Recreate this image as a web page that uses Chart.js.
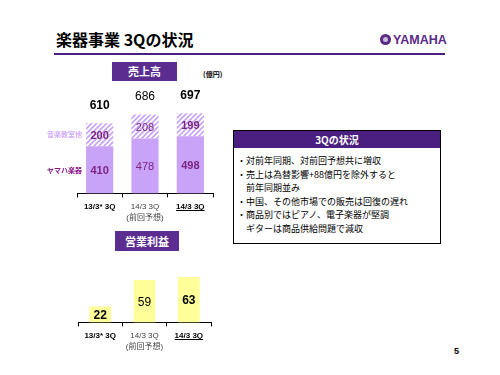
<!DOCTYPE html>
<html>
<head>
<meta charset="utf-8">
<script src="https://cdn.jsdelivr.net/npm/chart.js@4/dist/chart.umd.min.js"></script>
<style>
  body { margin: 0; width: 500px; height: 375px; background: #fff; position: relative; overflow: hidden;
         font-family: "Liberation Sans", "Noto Sans CJK JP", sans-serif; }
  .abs { position: absolute; }
  .title { left: 56px; top: 29px; font-size: 16px; font-weight: bold; color: #000; font-family: "Noto Sans CJK JP", sans-serif; line-height: 20px; }
  .rule { left: 54px; top: 53px; width: 391px; height: 2px; background: #4b1f7f; }
  .logo { left: 380px; top: 33px; color: #5b2a86; font-weight: bold; font-size: 12.5px; line-height: 14px; }
  .logo .emb { display: inline-block; width: 11px; height: 11px; border-radius: 50%; background: #5b2a86; vertical-align: -1px; margin-right: 2px; position: relative; }
  .logo .emb::after { content: ""; position: absolute; left: 3px; top: 3px; width: 5px; height: 5px; border-radius: 50%; background: #fff; opacity: .7; }
  .tag { background: #5c2d91; color: #fff; font-weight: bold; font-size: 11px; text-align: center; font-family: "Noto Sans CJK JP", sans-serif; }
  .unit { left: 203px; top: 69px; font-size: 7px; font-weight: bold; font-family: "Noto Sans CJK JP", sans-serif; }
  .box { left: 233px; top: 130px; width: 208px; height: 114px; border: 1px solid #000; box-sizing: border-box; }
  .box .hd { height: 17px; background: #4b1f7f; color: #fff; font-weight: bold; font-size: 10px; text-align: center; line-height: 17px; font-family: "Noto Sans CJK JP", sans-serif; }
  .box .tx { font-size: 9px; line-height: 13.5px; padding: 6px 0 0 3px; font-family: "Noto Sans CJK JP", sans-serif; color: #000; }
  .pg { left: 454px; top: 346px; font-size: 9px; font-weight: bold; }
  canvas { position: absolute; }
</style>
</head>
<body>
<div class="abs title">楽器事業 3Qの状況</div>
<div class="abs logo"><span class="emb"></span>YAMAHA</div>
<div class="abs rule"></div>
<div class="abs tag" style="left:112px;top:62px;width:65px;height:19px;line-height:19px;">売上高</div>
<div class="abs unit">(億円)</div>
<div class="abs tag" style="left:115px;top:231px;width:64px;height:20px;line-height:20px;">営業利益</div>
<div class="abs box">
  <div class="hd">3Qの状況</div>
  <div class="tx">・対前年同期、対前回予想共に増収<br>・売上は為替影響+88億円を除外すると<br>　前年同期並み<br>・中国、その他市場での販売は回復の遅れ<br>・商品別ではピアノ、電子楽器が堅調<br>　ギターは商品供給問題で減収</div>
</div>
<div class="abs pg">5</div>

<div class="abs" style="left:40px;top:85px;width:190px;height:146px;"><canvas id="sales"></canvas></div>
<div class="abs" style="left:40px;top:255px;width:190px;height:105px;"><canvas id="profit"></canvas></div>

<script>
// data
var categories = [['13/3* 3Q'], ['14/3 3Q', '(前回予想)'], ['14/3 3Q']];
var yamahaGakki = [410, 478, 498];
var ongakuKyoshitsu = [200, 208, 199];
var salesTotal = [610, 686, 697];
var opIncome = [22, 59, 63];
var seriesNames = ['ヤマハ楽器', '音楽教室他'];
var boldCols = [true, false, true];

var lilac = '#c9a3f7';
var numFont = '"Liberation Sans", "Noto Sans CJK JP", sans-serif';

function hatch() {
  var c = document.createElement('canvas');
  c.width = 5; c.height = 5;
  var g = c.getContext('2d');
  g.fillStyle = '#fff';
  g.fillRect(0, 0, 5, 5);
  g.strokeStyle = lilac;
  g.lineWidth = 1.6;
  g.beginPath();
  g.moveTo(-1, 6); g.lineTo(6, -1);
  g.moveTo(-1, 1); g.lineTo(1, -1);
  g.moveTo(4, 6); g.lineTo(6, 4);
  g.stroke();
  return g.createPattern(c, 'repeat');
}

// numbers on bars + totals + series names
const barLabels = {
  id: 'barLabels',
  afterDatasetsDraw(chart, args, opts) {
    var ctx = chart.ctx;
    ctx.save();
    ctx.textAlign = 'center';
    ctx.textBaseline = 'middle';
    chart.data.datasets.forEach(function (ds, di) {
      chart.getDatasetMeta(di).data.forEach(function (bar, i) {
        var mid = (bar.y + bar.base) / 2;
        ctx.font = (boldCols[i] ? 'bold ' : '') + opts.size + 'px ' + numFont;
        ctx.fillStyle = opts.color;
        ctx.fillText(ds.data[i], bar.x, mid + 1);
      });
    });
    if (opts.totals) {
      var top = chart.getDatasetMeta(chart.data.datasets.length - 1).data;
      top.forEach(function (bar, i) {
        ctx.font = (boldCols[i] ? 'bold ' : '') + '12px ' + numFont;
        ctx.fillStyle = '#000';
        ctx.fillText(opts.totals[i], bar.x, bar.y - 18);
      });
    }
    if (opts.names) {
      ctx.textAlign = 'left';
      ctx.font = 'bold 7px "Noto Sans CJK JP", sans-serif';
      chart.data.datasets.forEach(function (ds, di) {
        var bar = chart.getDatasetMeta(di).data[0];
        ctx.fillStyle = opts.nameColors[di];
        ctx.fillText(ds.label, 7, (bar.y + bar.base) / 2);
      });
    }
    ctx.restore();
  }
};

// underline under the current quarter label
const underline = {
  id: 'underline',
  afterDraw(chart) {
    var x = chart.scales.x;
    var ctx = chart.ctx;
    ctx.save();
    ctx.font = 'bold 8px ' + numFont;
    var w = ctx.measureText('14/3 3Q').width;
    var cx = x.getPixelForTick(2);
    var y = x.top + 17;
    ctx.strokeStyle = '#000';
    ctx.lineWidth = 1;
    ctx.beginPath();
    ctx.moveTo(cx - w / 2, Math.round(y) + 0.5);
    ctx.lineTo(cx + w / 2, Math.round(y) + 0.5);
    ctx.stroke();
    ctx.restore();
  }
};

function xAxis() {
  return {
    stacked: true,
    border: { color: '#000', width: 1 },
    grid: { display: true, drawOnChartArea: false, drawTicks: true, tickLength: 4, color: '#000', offset: true },
    ticks: {
      padding: 4,
      maxRotation: 0,
      color: function (c) { return boldCols[c.index] ? '#000' : '#444'; },
      font: function (c) { return { size: 8, weight: boldCols[c.index] ? 'bold' : 'normal', family: numFont, lineHeight: 1.35 }; }
    }
  };
}

new Chart(document.getElementById('sales'), {
  type: 'bar',
  data: {
    labels: categories,
    datasets: [
      { label: seriesNames[0], data: yamahaGakki, backgroundColor: lilac, barPercentage: 0.6, categoryPercentage: 1 },
      { label: seriesNames[1], data: ongakuKyoshitsu, backgroundColor: hatch(), barPercentage: 0.6, categoryPercentage: 1 }
    ]
  },
  options: {
    responsive: true, maintainAspectRatio: false, animation: false,
    layout: { padding: { left: 37, right: 17, top: 5, bottom: 4 } },
    scales: {
      x: xAxis(),
      y: { stacked: true, display: false, min: 0, max: 900 }
    },
    plugins: {
      legend: { display: false }, tooltip: { enabled: false },
      barLabels: { color: '#7b2480', size: 11, totals: salesTotal, names: true, nameColors: ['#8b1a8b', '#d2adfa'] }
    }
  },
  plugins: [barLabels, underline]
});

new Chart(document.getElementById('profit'), {
  type: 'bar',
  data: {
    labels: categories,
    datasets: [
      { label: '営業利益', data: opIncome, backgroundColor: '#ffff99', barPercentage: 0.49, categoryPercentage: 1 }
    ]
  },
  options: {
    responsive: true, maintainAspectRatio: false, animation: false,
    layout: { padding: { left: 38, right: 19, top: 7, bottom: 4 } },
    scales: {
      x: xAxis(),
      y: { display: false, min: 0, max: 84 }
    },
    plugins: {
      legend: { display: false }, tooltip: { enabled: false },
      barLabels: { color: '#000', size: 12 }
    }
  },
  plugins: [barLabels, underline]
});
</script>
</body>
</html>
